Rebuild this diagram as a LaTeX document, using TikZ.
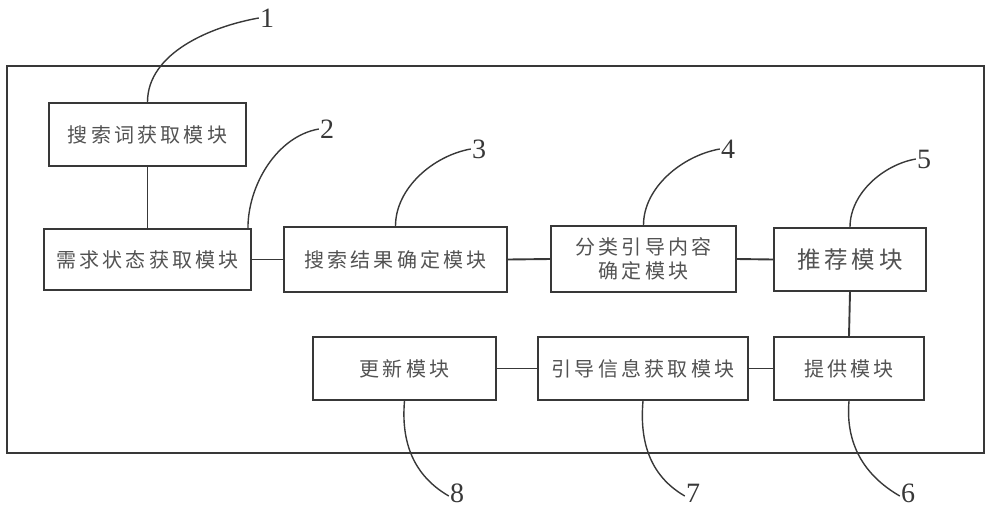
\documentclass[tikz,border=0pt]{standalone}
\usepackage{fontspec}
\newfontfamily\cjk{Noto Sans CJK SC}[LetterSpace=16]
\setmainfont{Liberation Serif}
\definecolor{ink}{gray}{0.22}
\definecolor{txt}{gray}{0.32}
\tikzset{
  mod/.style={draw=ink, line width=1.9pt, inner sep=0pt, text=txt,
    font=\cjk\fontsize{20}{24}\selectfont, align=center},
  link/.style={draw=ink, line width=1.9pt},
  lead/.style={draw=ink, line width=1.4pt},
  num/.style={inner sep=0pt, text=ink, font=\fontsize{28}{28}\selectfont}
}
\begin{document}
\begin{tikzpicture}[x=1pt,y=-1pt]
\useasboundingbox (0,0) rectangle (1000,515);
\draw[line width=2pt, draw=ink] (7,66) rectangle (984,453);
% modules
\node[mod, minimum width=197pt, minimum height=63pt] (b1) at (147.5,134.5) {搜索词获取模块};
\node[mod, minimum width=207pt, minimum height=61pt] (b2) at (147.5,259.5) {需求状态获取模块};
\node[mod, minimum width=223pt, minimum height=65pt] (b3) at (395.5,259.5) {搜索结果确定模块};
\node[mod, minimum width=185pt, minimum height=66pt] (b4) at (643.5,259) {分类引导内容\\确定模块};
\node[mod, minimum width=152pt, minimum height=63pt, font=\cjk\fontsize{23.5}{24}\selectfont] (b5) at (850,259.5) {推荐模块};
\node[mod, minimum width=150pt, minimum height=63pt] (b6) at (849,368.5) {提供模块};
\node[mod, minimum width=210pt, minimum height=63pt] (b7) at (643,368.5) {引导信息获取模块};
\node[mod, minimum width=183pt, minimum height=63pt] (b8) at (404.5,368.5) {更新模块};
% connectors
\draw[link] (b1.south) -- (b2.north);
\draw[link] (b2.east) -- (b3.west);
\draw[link] (b3.east) -- (b4.west);
\draw[link] (b4.east) -- (b5.west);
\draw[link] (b5.south) -- (b6.north);
\draw[link] (b6.west) -- (b7.east);
\draw[link] (b7.west) -- (b8.east);
% labels
\node[num] (l1) at (267,18) {1};
\node[num] (l2) at (327,129) {2};
\node[num] (l3) at (479,149) {3};
\node[num] (l4) at (728,149) {4};
\node[num] (l5) at (924,159) {5};
\node[num] (l6) at (908,493) {6};
\node[num] (l7) at (693,493) {7};
\node[num] (l8) at (457,493) {8};
\coordinate (s2) at ([xshift=-4pt]b2.north east);
% leaders
\draw[lead] (b1.north) to[out=90,in=190,looseness=0.9] ([xshift=-1pt]l1.west);
\draw[lead] (s2) to[out=90,in=190,looseness=0.9] ([xshift=-1pt]l2.west);
\draw[lead] (b3.north) to[out=90,in=190,looseness=0.9] ([xshift=-1pt]l3.west);
\draw[lead] (b4.north) to[out=90,in=190,looseness=0.9] ([xshift=-1pt]l4.west);
\draw[lead] (b5.north) to[out=90,in=190,looseness=0.9] ([xshift=-1pt]l5.west);
\draw[lead] (b6.south) to[out=-95,in=150,looseness=1] ([xshift=-1pt,yshift=-3pt]l6.west);
\draw[lead] (b7.south) to[out=-95,in=150,looseness=1] ([xshift=-1pt,yshift=-3pt]l7.west);
\draw[lead] (b8.south) to[out=-95,in=150,looseness=1] ([xshift=-1pt,yshift=-3pt]l8.west);
\end{tikzpicture}
\end{document}
